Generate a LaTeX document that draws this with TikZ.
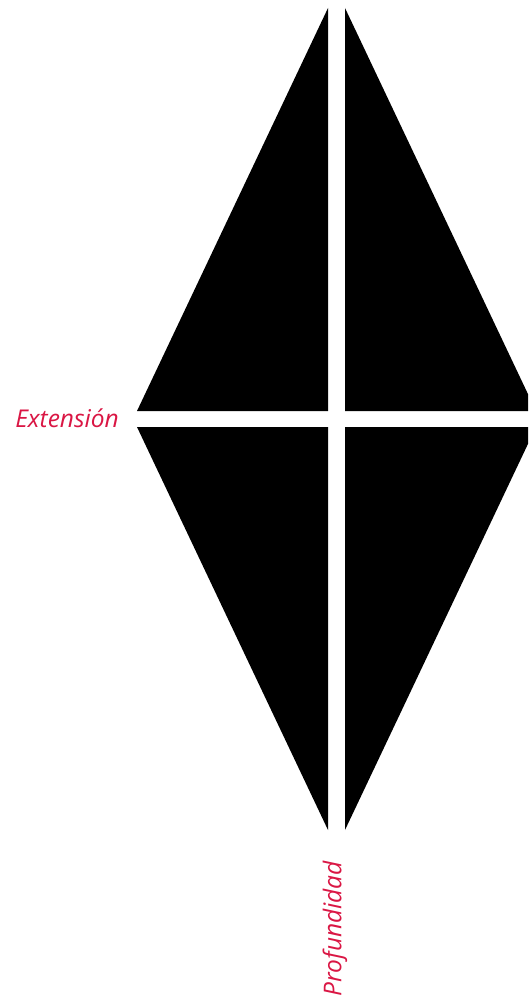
\documentclass[tikz,border=0pt]{standalone}
\usepackage{fontspec}
\setmainfont{Open Sans}
\definecolor{labelred}{RGB}{218,22,68}
\begin{document}
\begin{tikzpicture}[x=1pt,y=-1pt,
  tri/.style={fill=black,draw=none},
  lbl/.style={text=labelred,font=\itshape\fontsize{24.5}{28}\selectfont,inner sep=0pt}]
\useasboundingbox (0,0) rectangle (528,1000);
\clip (0,0) rectangle (528,1000);
\fill[white] (0,0) rectangle (528,1000);
% four right triangles
\path[tri] (328,8) -- (328,411) -- (137,411) -- cycle;
\path[tri] (345,8) -- (345,411) -- (536,411) -- cycle;
\path[tri] (328,427) -- (137,427) -- (328,830) -- cycle;
\path[tri] (345,427) -- (536,427) -- (345,830) -- cycle;
\node[lbl] (ext) at (67,418) {Extensión};
\node[lbl,rotate=90] (prof) at (335,929) {Profundidad};
\end{tikzpicture}
\end{document}
